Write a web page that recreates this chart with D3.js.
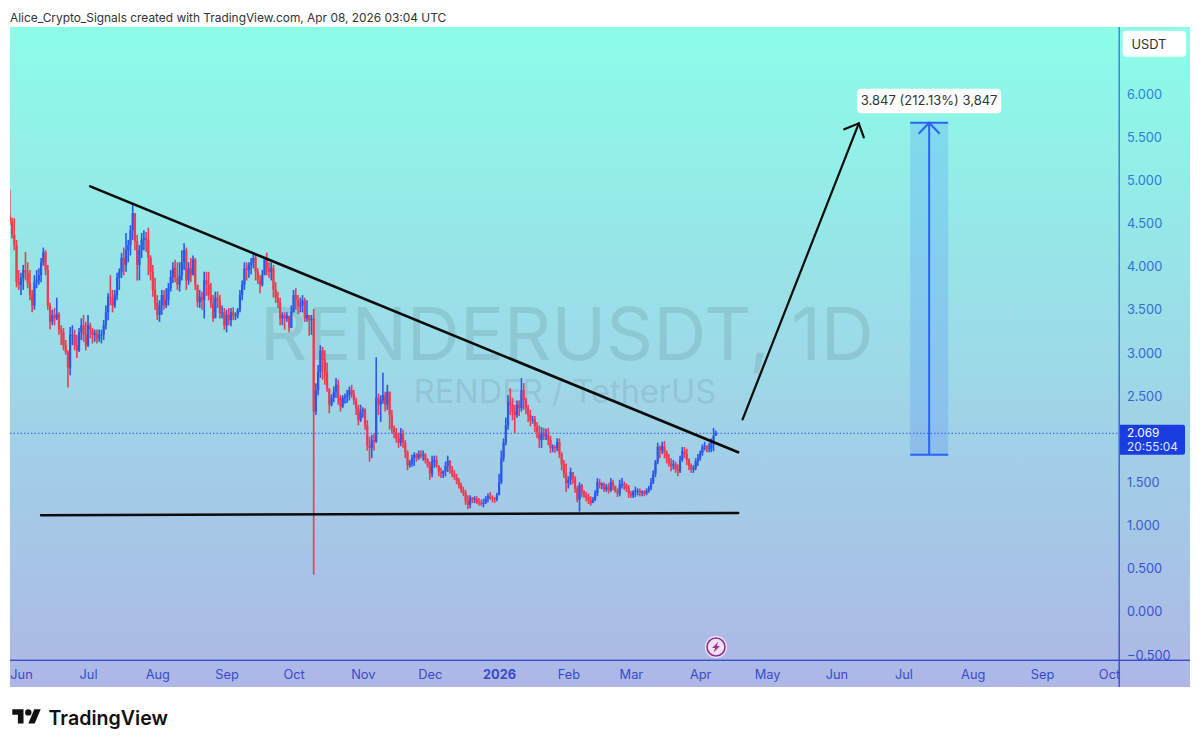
<!DOCTYPE html>
<html>
<head>
<meta charset="utf-8">
<title>RENDERUSDT, 1D</title>
<script src="https://d3js.org/d3.v7.min.js"></script>
<style>
html, body {
	margin: 0;
	padding: 0;
	background: #fff;
}
svg {
	display: block;
	font-family: Inter, "Noto Sans", sans-serif;
}
.axis path, .axis line {
	display: none;
}
</style>
</head>
<body>
<div id="canvas"></div>
<script>
	// daily candles, open is the previous close
	var firstDay = "2025-05-27";
	var firstOpen = 4.60;

	var closes = [
		4.52,4.37,4.25,3.82,3.79,3.87,3.96,3.93,3.81,3.67,
		3.55,3.82,3.84,3.90,4.05,4.17,3.96,3.55,3.36,3.44,
		3.40,3.45,3.27,3.24,3.09,3.01,2.83,3.21,3.21,3.09,
		3.03,3.24,3.32,3.21,3.09,3.32,3.27,3.21,3.23,3.17,
		3.21,3.21,3.32,3.47,3.65,3.64,3.55,3.67,3.87,3.94,
		4.10,4.02,4.19,4.25,4.42,4.62,4.29,4.02,4.19,4.31,
		4.33,4.31,4.10,3.94,3.73,3.58,3.44,3.55,3.67,3.55,
		3.61,3.75,3.88,3.98,3.87,3.79,3.90,4.05,4.19,3.84,
		3.98,3.90,4.08,3.79,3.59,3.65,3.61,3.84,3.79,3.67,
		3.58,3.40,3.64,3.61,3.46,3.47,3.32,3.44,3.38,3.47,
		3.43,3.44,3.50,3.67,3.79,3.98,3.96,4.02,4.05,4.10,
		3.94,3.84,3.79,3.90,4.08,3.98,3.94,3.98,3.73,3.64,
		3.58,3.40,3.44,3.40,3.43,3.29,3.47,3.67,3.61,3.54,
		3.55,3.61,3.40,3.44,3.38,3.40,2.32,2.57,2.78,3.03,
		2.92,2.78,2.59,2.40,2.48,2.55,2.63,2.48,2.38,2.48,
		2.49,2.51,2.57,2.52,2.45,2.36,2.22,2.32,2.34,2.16,
		1.93,1.90,1.99,1.97,2.48,2.40,2.45,2.51,2.40,2.55,
		2.28,2.13,2.08,2.01,1.96,2.07,1.96,1.85,1.70,1.72,
		1.78,1.82,1.78,1.83,1.81,1.82,1.76,1.70,1.60,1.74,
		1.76,1.69,1.62,1.60,1.63,1.69,1.75,1.64,1.60,1.56,
		1.52,1.47,1.41,1.38,1.28,1.24,1.32,1.30,1.31,1.27,
		1.26,1.25,1.26,1.31,1.34,1.32,1.31,1.30,1.35,1.50,
		1.78,1.96,2.16,2.43,2.40,2.32,2.28,2.40,2.36,2.57,
		2.45,2.36,2.28,2.22,2.23,2.15,2.08,1.99,2.07,2.04,
		2.05,1.99,1.90,1.91,1.90,1.97,1.83,1.71,1.60,1.49,
		1.53,1.62,1.55,1.43,1.30,1.47,1.39,1.35,1.33,1.30,
		1.26,1.30,1.37,1.50,1.47,1.48,1.42,1.45,1.41,1.50,
		1.46,1.40,1.37,1.48,1.48,1.46,1.43,1.37,1.35,1.39,
		1.40,1.40,1.38,1.39,1.37,1.40,1.43,1.50,1.60,1.74,
		1.91,1.87,1.92,1.85,1.78,1.72,1.69,1.71,1.65,1.63,
		1.76,1.86,1.83,1.76,1.69,1.65,1.67,1.74,1.78,1.84,
		1.91,1.92,1.89,1.89,1.97,2.04,2.069
	];
	var highs = [
		4.89,4.57,4.56,4.31,3.96,3.93,4.02,4.17,4.05,3.96,
		3.73,3.90,3.96,3.98,4.10,4.22,4.19,4.02,3.58,3.50,
		3.52,3.64,3.47,3.32,3.29,3.15,3.03,3.30,3.32,3.27,
		3.21,3.29,3.40,3.44,3.36,3.44,3.35,3.29,3.27,3.27,
		3.27,3.27,3.38,3.55,3.69,3.90,3.73,3.73,3.93,3.98,
		4.16,4.22,4.39,4.31,4.48,4.74,4.62,4.37,4.25,4.39,
		4.42,4.40,4.45,4.13,4.02,3.87,3.67,3.61,3.73,3.73,
		3.75,3.81,3.96,4.05,4.08,4.05,4.05,4.19,4.27,4.22,
		4.05,4.10,4.13,4.10,3.79,3.73,3.71,3.94,3.94,3.94,
		3.81,3.67,3.71,3.71,3.67,3.55,3.52,3.50,3.52,3.52,
		3.53,3.47,3.52,3.73,3.84,4.05,4.05,4.05,4.10,4.16,
		4.14,3.98,3.90,3.96,4.11,4.16,4.05,4.05,4.02,3.82,
		3.71,3.64,3.47,3.47,3.47,3.43,3.55,3.73,3.75,3.67,
		3.64,3.67,3.64,3.61,3.44,3.44,3.51,2.65,2.86,3.09,
		3.07,3.03,2.89,2.55,2.52,2.61,2.71,2.69,2.51,2.51,
		2.53,2.57,2.61,2.63,2.57,2.48,2.40,2.40,2.37,2.36,
		2.22,2.03,2.05,2.07,2.95,2.53,2.51,2.77,2.55,2.63,
		2.55,2.34,2.16,2.13,2.07,2.13,2.11,1.99,1.87,1.76,
		1.82,1.85,1.84,1.87,1.87,1.87,1.84,1.78,1.74,1.81,
		1.81,1.81,1.70,1.67,1.64,1.74,1.81,1.76,1.69,1.64,
		1.60,1.55,1.50,1.45,1.41,1.35,1.35,1.33,1.34,1.34,
		1.32,1.30,1.31,1.34,1.37,1.39,1.35,1.33,1.38,1.60,
		1.87,2.01,2.25,2.51,2.59,2.48,2.40,2.45,2.45,2.71,
		2.65,2.48,2.40,2.34,2.27,2.27,2.20,2.16,2.14,2.13,
		2.12,2.13,2.04,1.94,1.93,2.01,2.01,1.85,1.76,1.72,
		1.57,1.67,1.62,1.57,1.46,1.50,1.48,1.41,1.39,1.37,
		1.34,1.33,1.41,1.55,1.54,1.50,1.50,1.48,1.49,1.55,
		1.53,1.46,1.43,1.53,1.55,1.51,1.49,1.47,1.40,1.41,
		1.45,1.43,1.43,1.41,1.41,1.43,1.46,1.55,1.64,1.76,
		1.96,1.93,1.97,1.98,1.87,1.83,1.78,1.76,1.74,1.71,
		1.81,1.91,1.91,1.89,1.78,1.72,1.70,1.78,1.83,1.87,
		1.94,1.97,1.93,1.96,2.01,2.13,2.10
	];
	var lows = [
		4.48,4.33,4.19,3.76,3.73,3.67,3.73,3.84,3.75,3.61,
		3.47,3.50,3.75,3.79,3.82,4.01,3.90,3.50,3.27,3.32,
		3.32,3.38,3.21,3.09,3.03,2.98,2.60,2.74,3.09,3.03,
		2.94,3.01,3.15,3.13,3.03,3.07,3.17,3.11,3.13,3.11,
		3.13,3.11,3.15,3.27,3.38,3.55,3.47,3.52,3.61,3.73,
		3.87,3.90,3.94,4.05,4.13,4.31,4.19,3.84,3.84,4.10,
		4.19,4.17,3.90,3.84,3.65,3.50,3.38,3.36,3.44,3.50,
		3.52,3.55,3.71,3.81,3.82,3.73,3.71,3.84,3.96,3.73,
		3.79,3.82,3.90,3.73,3.53,3.52,3.50,3.40,3.66,3.61,
		3.52,3.36,3.47,3.52,3.40,3.40,3.27,3.24,3.32,3.31,
		3.38,3.38,3.40,3.47,3.61,3.73,3.84,3.87,3.91,3.98,
		3.84,3.80,3.69,3.77,3.90,3.90,3.87,3.84,3.64,3.58,
		3.52,3.32,3.32,3.27,3.36,3.24,3.29,3.47,3.50,3.45,
		3.47,3.47,3.36,3.36,3.20,3.21,0.43,2.28,2.51,2.71,
		2.69,2.63,2.55,2.30,2.38,2.43,2.48,2.40,2.32,2.36,
		2.41,2.42,2.45,2.48,2.40,2.28,2.16,2.20,2.25,2.11,
		1.87,1.74,1.78,1.87,1.96,2.28,2.20,2.41,2.32,2.34,
		2.11,2.07,2.01,1.96,1.90,1.92,1.90,1.78,1.64,1.67,
		1.68,1.69,1.74,1.76,1.78,1.75,1.72,1.67,1.53,1.56,
		1.67,1.67,1.57,1.55,1.55,1.57,1.62,1.60,1.56,1.53,
		1.48,1.43,1.38,1.34,1.24,1.19,1.20,1.26,1.26,1.25,
		1.23,1.23,1.21,1.25,1.27,1.30,1.27,1.26,1.28,1.37,
		1.48,1.74,1.93,2.11,2.28,2.22,2.07,2.25,2.27,2.32,
		2.34,2.29,2.20,2.15,2.18,2.08,2.01,1.90,1.90,1.99,
		1.99,1.93,1.84,1.85,1.84,1.86,1.78,1.64,1.55,1.39,
		1.43,1.47,1.48,1.38,1.27,1.16,1.33,1.32,1.28,1.25,
		1.23,1.26,1.28,1.34,1.43,1.42,1.39,1.39,1.37,1.39,
		1.41,1.38,1.33,1.34,1.43,1.41,1.39,1.32,1.32,1.32,
		1.33,1.35,1.34,1.34,1.34,1.35,1.38,1.41,1.48,1.56,
		1.71,1.78,1.83,1.78,1.72,1.68,1.63,1.65,1.61,1.57,
		1.61,1.74,1.78,1.70,1.64,1.61,1.61,1.64,1.69,1.75,
		1.81,1.87,1.85,1.85,1.85,1.86,2.04
	];

	// 2.000 sits under the last price tag, so it is not listed
	var priceTicks = [-0.5, 0, 0.5, 1, 1.5, 2.5, 3, 3.5, 4, 4.5, 5, 5.5, 6];
	var timeTicks = ["2025-06-01","2025-07-01","2025-08-01","2025-09-01","2025-10-01","2025-11-01","2025-12-01",
		"2026-01-01","2026-02-01","2026-03-01","2026-04-01","2026-05-01","2026-06-01","2026-07-01","2026-08-01","2026-09-01","2026-10-01"];
	var timeLabels = ["Jun","Jul","Aug","Sep","Oct","Nov","Dec","2026","Feb","Mar","Apr","May","Jun","Jul","Aug","Sep","Oct"];

	// hand drawn lines on the chart
	var trendLines = [
		{ from: "2025-07-02", start: 4.93, to: "2026-04-18", end: 1.85 },
		{ from: "2025-06-10", start: 1.12, to: "2026-04-18", end: 1.145 }
	];
	var targetArrow = { from: "2026-04-20", start: 2.23, to: "2026-06-11", end: 5.66 };
	var measure = { from: "2026-07-04", to: "2026-07-21", low: 1.82, high: 5.667 };
	var measureLabel = "3.847 (212.13%) 3,847";

	var width = 1200, height = 747;
	var parseDay = d3.utcParse("%Y-%m-%d");

	var x = d3.scaleUtc()
		.domain([parseDay("2025-06-01"), parseDay("2026-10-01")])
		.range([21, 1109]);
	var y = d3.scaleLinear()
		.domain([-0.5, 6])
		.range([655, 94]);

	var candles = closes.map((c, i) => ({
		day: d3.utcDay.offset(parseDay(firstDay), i),
		open: i ? closes[i - 1] : firstOpen,
		high: highs[i],
		low: lows[i],
		close: c
	}));
	var last = candles[candles.length - 1];

	var svg = d3.select("#canvas").append("svg")
		.attr("width", width)
		.attr("height", height)
		.attr("viewBox", [0, 0, width, height]);

	var defs = svg.append("defs");
	var bg = defs.append("linearGradient")
		.attr("id", "bg").attr("x1", 0).attr("x2", 0).attr("y1", 0).attr("y2", 1);
	bg.append("stop").attr("offset", 0).attr("stop-color", "#8cfde8");
	bg.append("stop").attr("offset", 1).attr("stop-color", "#adb7e6");
	defs.append("clipPath").attr("id", "pane").append("rect")
		.attr("x", 10).attr("y", 27).attr("width", 1109).attr("height", 633);

	// scale colour follows the background from top to bottom
	var scaleColor = d3.scaleLinear()
		.domain([27, 687])
		.range(["#2c86d8", "#3a49cc"]);
	var lineGrad = defs.append("linearGradient")
		.attr("id", "scaleLine").attr("x1", 0).attr("x2", 0).attr("y1", 0).attr("y2", 1);
	lineGrad.append("stop").attr("offset", 0).attr("stop-color", scaleColor(27));
	lineGrad.append("stop").attr("offset", 1).attr("stop-color", scaleColor(687));

	svg.append("text")
		.attr("x", 10).attr("y", 22)
		.attr("font-size", 11.9)
		.attr("fill", "#333")
		.text("Alice_Crypto_Signals created with TradingView.com, Apr 08, 2026 03:04 UTC");

	svg.append("rect")
		.attr("x", 10).attr("y", 27).attr("width", 1180).attr("height", 660)
		.attr("fill", "url(#bg)");

	// watermark
	svg.append("text")
		.attr("x", 260).attr("y", 360)
		.attr("font-size", 73.5)
		.attr("fill", "#4d6f7c").attr("fill-opacity", 0.18)
		.text("RENDERUSDT, 1D");
	svg.append("text")
		.attr("x", 565).attr("y", 403)
		.attr("text-anchor", "middle")
		.attr("font-size", 32.5)
		.attr("fill", "#4d6f7c").attr("fill-opacity", 0.18)
		.text("RENDER / TetherUS");

	var plot = svg.append("g").attr("clip-path", "url(#pane)");

	// last price line
	plot.append("line")
		.attr("x1", 10).attr("x2", 1119)
		.attr("y1", y(last.close)).attr("y2", y(last.close))
		.attr("stroke", "#2f58d8")
		.attr("stroke-width", 1)
		.attr("stroke-dasharray", "1.5 2");

	var color = d => d.close >= d.open ? "#2b57ea" : "#ee3a4e";

	var bars = plot.append("g").selectAll("g")
		.data(candles)
		.join("g")
		.attr("transform", d => `translate(${x(d.day)},0)`);
	bars.append("line")
		.attr("y1", d => y(d.high))
		.attr("y2", d => y(d.low))
		.attr("stroke", color)
		.attr("stroke-width", 1.6);
	bars.append("rect")
		.attr("x", -1.1)
		.attr("width", 2.2)
		.attr("y", d => y(Math.max(d.open, d.close)))
		.attr("height", d => Math.max(0.8, Math.abs(y(d.open) - y(d.close))))
		.attr("fill", color);

	// measure box
	var mx0 = x(parseDay(measure.from)), mx1 = x(parseDay(measure.to)), mx = (mx0 + mx1) / 2;
	plot.append("rect")
		.attr("x", mx0).attr("width", mx1 - mx0)
		.attr("y", y(measure.high)).attr("height", y(measure.low) - y(measure.high))
		.attr("fill", "#2962ff").attr("fill-opacity", 0.17);
	var mg = plot.append("g")
		.attr("fill", "none")
		.attr("stroke", "#2962ff")
		.attr("stroke-width", 2);
	[measure.high, measure.low].forEach(p => {
		mg.append("line").attr("x1", mx0).attr("x2", mx1).attr("y1", y(p)).attr("y2", y(p));
	});
	mg.append("line").attr("x1", mx).attr("x2", mx).attr("y1", y(measure.high)).attr("y2", y(measure.low));
	mg.append("path").attr("d", `M${mx - 10.5},${y(measure.high) + 11}L${mx},${y(measure.high)}L${mx + 10.5},${y(measure.high) + 11}`);

	// drawn lines
	var ink = plot.append("g")
		.attr("fill", "none")
		.attr("stroke", "#0c0c0c")
		.attr("stroke-linecap", "round");
	ink.selectAll("line")
		.data(trendLines)
		.join("line")
		.attr("stroke-width", 2.6)
		.attr("x1", d => x(parseDay(d.from))).attr("y1", d => y(d.start))
		.attr("x2", d => x(parseDay(d.to))).attr("y2", d => y(d.end));

	var ax0 = x(parseDay(targetArrow.from)), ay0 = y(targetArrow.start);
	var ax1 = x(parseDay(targetArrow.to)), ay1 = y(targetArrow.end);
	ink.append("line")
		.attr("stroke-width", 2.2)
		.attr("x1", ax0).attr("y1", ay0).attr("x2", ax1).attr("y2", ay1);
	ink.append("path")
		.attr("stroke-width", 2.2)
		.attr("stroke-linejoin", "miter")
		.attr("d", `M${ax1 - 14.5},${ay1 + 6}L${ax1},${ay1}L${ax1 + 5},${ay1 + 14}`);

	// measure label
	var lw = 144, lh = 24.5;
	var lb = svg.append("g")
		.attr("transform", `translate(${mx - lw / 2},${y(measure.high) - 34})`);
	lb.append("rect")
		.attr("width", lw).attr("height", lh).attr("rx", 4)
		.attr("fill", "#fff");
	lb.append("text")
		.attr("x", lw / 2).attr("y", 16.7)
		.attr("text-anchor", "middle")
		.attr("font-size", 13)
		.attr("fill", "#333")
		.text(measureLabel);

	// scale lines
	svg.append("rect")
		.attr("x", 1118.5).attr("y", 27).attr("width", 1.4).attr("height", 660)
		.attr("fill", "url(#scaleLine)");
	svg.append("rect")
		.attr("x", 10).attr("y", 659.6).attr("width", 1180).attr("height", 1.4)
		.attr("fill", "#3a4fd0");

	// axes
	var yAxis = svg.append("g")
		.attr("class", "axis")
		.attr("transform", "translate(1127,0)")
		.call(d3.axisRight(y)
			.tickValues(priceTicks)
			.tickSize(0)
			.tickPadding(0)
			.tickFormat(d => d3.format(".3f")(d).replace("-", "\u2212")));
	yAxis.selectAll("text")
		.attr("font-family", "Inter, sans-serif")
		.attr("font-size", 12.8)
		.attr("fill", d => scaleColor(y(d)));

	var xAxis = svg.append("g")
		.attr("class", "axis")
		.attr("transform", "translate(0,669.5)")
		.call(d3.axisBottom(x)
			.tickValues(timeTicks.map(parseDay))
			.tickSize(0)
			.tickPadding(0)
			.tickFormat((d, i) => timeLabels[i]));
	xAxis.selectAll("text")
		.attr("font-family", "Inter, sans-serif")
		.attr("font-size", 12.8)
		.attr("fill", "#3a49cc")
		.attr("font-weight", (d, i) => timeLabels[i] === "2026" ? 700 : 400);

	// last price tag
	var tag = svg.append("g")
		.attr("transform", `translate(1120,${y(last.close) - 8.5})`);
	tag.append("path")
		.attr("d", "M0,0H63a2,2 0 0 1 2,2V28a2,2 0 0 1 -2,2H0Z")
		.attr("fill", "#1a3de0");
	tag.append("text")
		.attr("x", 7).attr("y", 12.5)
		.attr("font-size", 11.8)
		.attr("fill", "#fff")
		.text(d3.format(".3f")(last.close));
	tag.append("text")
		.attr("x", 7).attr("y", 26.5)
		.attr("font-size", 11.8)
		.attr("fill", "#dfe6ff")
		.text("20:55:04");

	// unit button
	svg.append("rect")
		.attr("x", 1122.7).attr("y", 30.7).attr("width", 63.5).attr("height", 26).attr("rx", 4)
		.attr("fill", "#fbfffe");
	svg.append("text")
		.attr("x", 1131.5).attr("y", 48.6)
		.attr("font-size", 12.8)
		.attr("fill", "#333")
		.text("USDT");

	// flash icon
	var flash = svg.append("g").attr("transform", "translate(716,647)");
	flash.append("circle").attr("r", 11).attr("fill", "#f5e8f5");
	flash.append("circle").attr("r", 9).attr("fill", "#efe3f3").attr("stroke", "#8e2a93").attr("stroke-width", 1.6);
	flash.append("path")
		.attr("d", "M2.5,-5.5L-4,1H-0.8L-2.5,5.5L4,-1H0.8Z")
		.attr("fill", "#a0309f");

	// logo
	var logo = svg.append("g").attr("transform", "translate(12.3,706) scale(0.8)").attr("fill", "#111");
	logo.append("path").attr("d", "M14 22H7V11H0V4h14v18zM28 22h-8l7.5-18h8L28 22z");
	logo.append("circle").attr("cx", 20).attr("cy", 8).attr("r", 4);
	svg.append("text")
		.attr("x", 48.5).attr("y", 724.5)
		.attr("font-size", 19.6)
		.attr("font-weight", 600)
		.attr("fill", "#111")
		.text("TradingView");
</script>
</body>
</html>
